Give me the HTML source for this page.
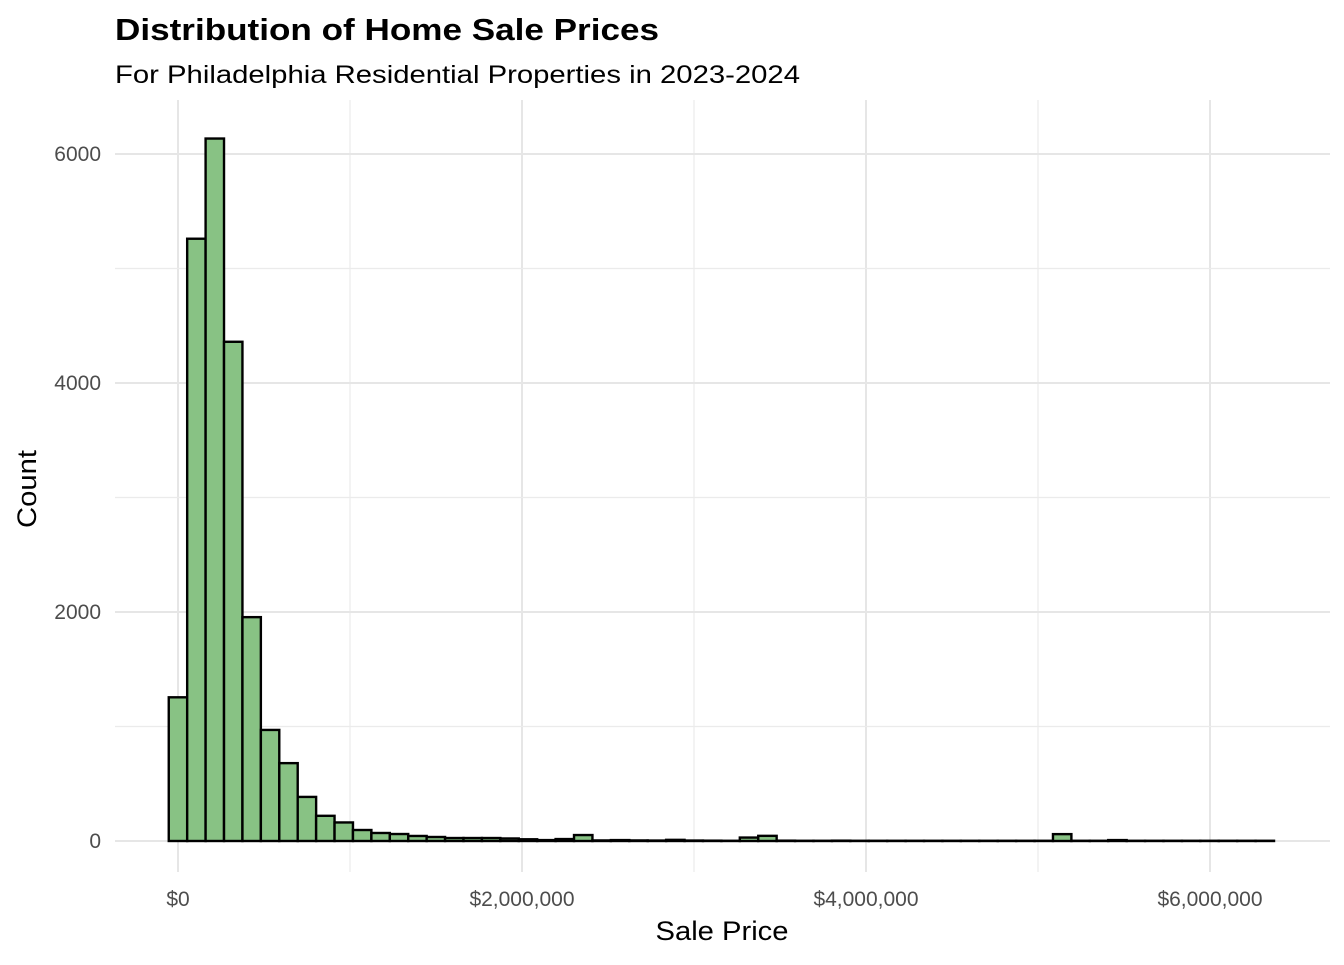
<!DOCTYPE html>
<html><head><meta charset="utf-8"><style>
body{margin:0;background:#fff;font-family:"Liberation Sans",sans-serif}
</style></head><body>
<svg width="1344" height="960" xmlns="http://www.w3.org/2000/svg" font-family="Liberation Sans, sans-serif">
<text x="115" y="40" font-size="31" font-weight="bold" fill="#000" textLength="544" lengthAdjust="spacingAndGlyphs">Distribution of Home Sale Prices</text>
<text x="115" y="83" font-size="25" fill="#000" textLength="685" lengthAdjust="spacingAndGlyphs">For Philadelphia Residential Properties in 2023-2024</text>
<g id="grid"></g>
<g id="bars"></g>
<g id="ticks"></g>
<text x="722" y="940" font-size="27" text-anchor="middle" fill="#000" textLength="133" lengthAdjust="spacingAndGlyphs">Sale Price</text>
<text transform="translate(36,489) rotate(-90)" font-size="27" text-anchor="middle" fill="#000" textLength="78" lengthAdjust="spacingAndGlyphs">Count</text>
</svg>
<script>
const counts=[1255,5260,6135,4360,1955,970,680,385,220,162,96,70,61,44,35,26,26,26,22,15,8,17,52,5,8,5,4,10,4,3,2,30,45,3,2,2,3,2,2,2,2,2,2,2,2,2,2,2,60,2,2,8,2,2,2,2,2,2,2,2];
const binStart=-53750;
const binWidth=107100;
const xTicks=[0,2000000,4000000,6000000];
const xTickLabels=["$0","$2,000,000","$4,000,000","$6,000,000"];
const yTicks=[0,2000,4000,6000];
const NS="http://www.w3.org/2000/svg";
const X=v=>178+v*172/1000000;
const Y=v=>841-v*0.1145;
function mk(t,a,p){const e=document.createElementNS(NS,t);for(const k in a)e.setAttribute(k,a[k]);p.appendChild(e);return e;}
const g=document.getElementById('grid'),b=document.getElementById('bars'),tk=document.getElementById('ticks');
for(let i=0;i<xTicks.length;i++){
  const l=mk('line',{x1:X(xTicks[i]),x2:X(xTicks[i]),y1:100,y2:872,stroke:'#e6e6e6','stroke-width':2},g);
  
  if(i<xTicks.length-1){const m=(xTicks[i]+xTicks[i+1])/2;
    const n=mk('line',{x1:X(m),x2:X(m),y1:100,y2:872,stroke:'#ebebeb','stroke-width':1.2},g);
    }
  const t=mk('text',{x:X(xTicks[i]),y:906,'font-size':21,'text-anchor':'middle',fill:'#4d4d4d'},tk);t.textContent=xTickLabels[i];
  
}
for(let i=0;i<yTicks.length;i++){
  const l=mk('line',{x1:115,x2:1330,y1:Y(yTicks[i]),y2:Y(yTicks[i]),stroke:'#e6e6e6','stroke-width':2},g);
  
  if(i<yTicks.length-1){const m=(yTicks[i]+yTicks[i+1])/2;
    const n=mk('line',{x1:115,x2:1330,y1:Y(m),y2:Y(m),stroke:'#ebebeb','stroke-width':1.2},g);
    }
  const t=mk('text',{x:101,y:Y(yTicks[i])+7,'font-size':21,'text-anchor':'end',fill:'#4d4d4d'},tk);t.textContent=yTicks[i];
  
}
counts.forEach((c,i)=>{
  const x0=X(binStart+i*binWidth),x1=X(binStart+(i+1)*binWidth);
  const r=mk('rect',{x:x0,y:Y(c),width:x1-x0,height:Y(0)-Y(c),fill:'#88c284',stroke:'#000','stroke-width':2.4},b);
  
  
});
</script>
</body></html>
